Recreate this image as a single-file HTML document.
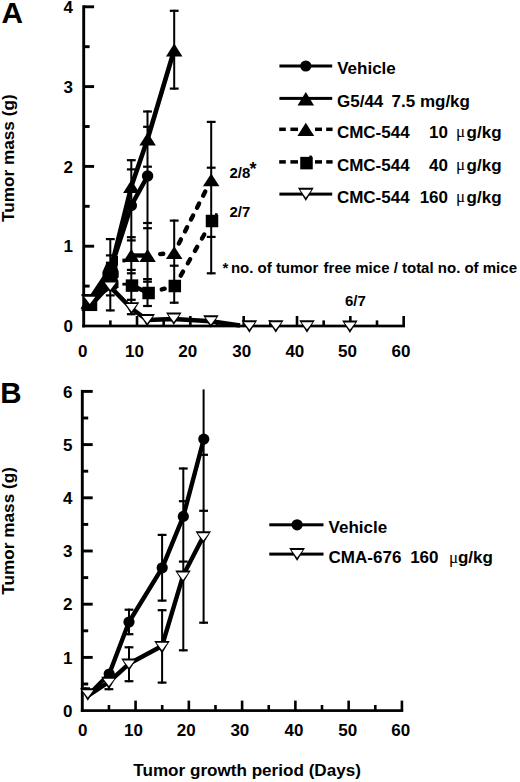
<!DOCTYPE html>
<html><head><meta charset="utf-8"><title>Figure</title>
<style>html,body{margin:0;padding:0;background:#fff;}svg{display:block;}</style>
</head><body>
<svg width="520" height="782" viewBox="0 0 520 782">
<rect x="0" y="0" width="520" height="782" fill="#fff"/>
<rect x="85.50" y="294.10" width="2.00" height="16.70" fill="#000"/>
<rect x="81.50" y="294.00" width="10.00" height="2.20" fill="#000"/>
<rect x="81.50" y="308.70" width="10.00" height="2.20" fill="#000"/>
<rect x="109.30" y="238.10" width="2.00" height="73.30" fill="#000"/>
<rect x="105.90" y="238.00" width="8.80" height="2.20" fill="#000"/>
<rect x="105.90" y="254.30" width="8.80" height="2.20" fill="#000"/>
<rect x="105.90" y="261.60" width="8.80" height="2.20" fill="#000"/>
<rect x="105.90" y="294.30" width="8.80" height="2.20" fill="#000"/>
<rect x="105.90" y="309.30" width="8.80" height="2.20" fill="#000"/>
<rect x="130.30" y="159.20" width="2.00" height="156.00" fill="#000"/>
<rect x="126.90" y="159.10" width="8.80" height="2.20" fill="#000"/>
<rect x="126.90" y="168.30" width="8.80" height="2.20" fill="#000"/>
<rect x="126.90" y="236.10" width="8.80" height="2.20" fill="#000"/>
<rect x="126.90" y="239.30" width="8.80" height="2.20" fill="#000"/>
<rect x="126.90" y="268.80" width="8.80" height="2.20" fill="#000"/>
<rect x="126.90" y="272.20" width="8.80" height="2.20" fill="#000"/>
<rect x="126.90" y="298.70" width="8.80" height="2.20" fill="#000"/>
<rect x="126.90" y="313.10" width="8.80" height="2.20" fill="#000"/>
<rect x="146.50" y="110.50" width="2.00" height="196.50" fill="#000"/>
<rect x="143.10" y="110.40" width="8.80" height="2.20" fill="#000"/>
<rect x="143.10" y="125.70" width="8.80" height="2.20" fill="#000"/>
<rect x="143.10" y="165.60" width="8.80" height="2.20" fill="#000"/>
<rect x="143.10" y="221.90" width="8.80" height="2.20" fill="#000"/>
<rect x="143.10" y="227.10" width="8.80" height="2.20" fill="#000"/>
<rect x="143.10" y="278.00" width="8.80" height="2.20" fill="#000"/>
<rect x="143.10" y="280.60" width="8.80" height="2.20" fill="#000"/>
<rect x="143.10" y="304.90" width="8.80" height="2.20" fill="#000"/>
<rect x="173.20" y="9.80" width="2.00" height="79.80" fill="#000"/>
<rect x="169.80" y="9.70" width="8.80" height="2.20" fill="#000"/>
<rect x="169.80" y="87.50" width="8.80" height="2.20" fill="#000"/>
<rect x="173.20" y="219.60" width="2.00" height="84.10" fill="#000"/>
<rect x="169.80" y="219.50" width="8.80" height="2.20" fill="#000"/>
<rect x="169.80" y="264.60" width="8.80" height="2.20" fill="#000"/>
<rect x="169.80" y="301.60" width="8.80" height="2.20" fill="#000"/>
<rect x="210.20" y="120.90" width="2.00" height="153.40" fill="#000"/>
<rect x="206.80" y="120.80" width="8.80" height="2.20" fill="#000"/>
<rect x="206.80" y="166.60" width="8.80" height="2.20" fill="#000"/>
<rect x="206.80" y="235.80" width="8.80" height="2.20" fill="#000"/>
<rect x="206.80" y="272.20" width="8.80" height="2.20" fill="#000"/>
<polyline points="88.90,304.50 110.30,270.00 131.30,205.50 147.60,176.00" fill="none" stroke="#000" stroke-width="4.6" stroke-linejoin="round" stroke-linecap="butt"/>
<polyline points="88.90,302.00 110.30,271.00 131.30,186.50 147.60,139.00 174.20,50.00" fill="none" stroke="#000" stroke-width="4.6" stroke-linejoin="round" stroke-linecap="butt"/>
<polyline points="89.80,300.40 110.30,286.90 131.50,308.50 147.20,320.00 173.80,319.00 210.90,321.20 240.00,325.60" fill="none" stroke="#000" stroke-width="4.6" stroke-linejoin="round" stroke-linecap="butt"/>
<polyline points="131.30,255.50 147.60,255.50" fill="none" stroke="#000" stroke-width="4.4" stroke-linejoin="round" stroke-linecap="butt"/>
<line x1="160.23" y1="254.12" x2="163.21" y2="253.80" stroke="#000" stroke-width="4.4" stroke-linecap="round"/>
<line x1="178.82" y1="243.51" x2="180.91" y2="239.41" stroke="#000" stroke-width="4.4" stroke-linecap="round"/>
<line x1="184.98" y1="231.38" x2="187.07" y2="227.28" stroke="#000" stroke-width="4.4" stroke-linecap="round"/>
<line x1="191.01" y1="219.53" x2="193.09" y2="215.43" stroke="#000" stroke-width="4.4" stroke-linecap="round"/>
<line x1="197.04" y1="207.67" x2="199.12" y2="203.57" stroke="#000" stroke-width="4.4" stroke-linecap="round"/>
<line x1="203.15" y1="195.64" x2="205.24" y2="191.53" stroke="#000" stroke-width="4.4" stroke-linecap="round"/>
<polyline points="132.00,285.60 148.60,293.00" fill="none" stroke="#000" stroke-width="4.4" stroke-linejoin="round" stroke-linecap="butt"/>
<line x1="161.74" y1="289.49" x2="164.64" y2="288.72" stroke="#000" stroke-width="4.4" stroke-linecap="round"/>
<line x1="180.71" y1="275.67" x2="183.00" y2="271.68" stroke="#000" stroke-width="4.4" stroke-linecap="round"/>
<line x1="187.81" y1="263.26" x2="190.10" y2="259.27" stroke="#000" stroke-width="4.4" stroke-linecap="round"/>
<line x1="194.92" y1="250.85" x2="197.20" y2="246.86" stroke="#000" stroke-width="4.4" stroke-linecap="round"/>
<line x1="201.97" y1="238.53" x2="204.26" y2="234.53" stroke="#000" stroke-width="4.4" stroke-linecap="round"/>
<polyline points="89.00,302.00 110.30,271.00" fill="none" stroke="#000" stroke-width="5.0" stroke-linejoin="round" stroke-linecap="butt"/>
<polyline points="91.00,304.80 111.00,283.00" fill="none" stroke="#000" stroke-width="5.0" stroke-linejoin="round" stroke-linecap="butt"/>
<polygon points="89.50,296.00 102.40,276.50 104.00,281.00 106.50,289.00 105.00,292.30 97.40,297.80 92.00,301.00" fill="#000"/>
<polygon points="106.40,262.40 109.50,262.40 112.00,256.00 118.00,256.00 118.00,264.50 117.30,267.50 118.70,271.50 118.70,277.00 116.60,279.50 118.50,281.50 118.50,288.00 110.00,288.00 102.40,281.00 102.40,272.10 105.50,265.00" fill="#000"/>
<rect x="82.25" y="5.30" width="2.90" height="322.05" fill="#000"/>
<rect x="82.25" y="324.65" width="322.73" height="2.70" fill="#000"/>
<rect x="83.70" y="284.65" width="5.90" height="2.90" fill="#000"/>
<rect x="83.70" y="244.75" width="10.40" height="2.90" fill="#000"/>
<rect x="83.70" y="204.85" width="5.90" height="2.90" fill="#000"/>
<rect x="83.70" y="164.95" width="10.40" height="2.90" fill="#000"/>
<rect x="83.70" y="125.05" width="5.90" height="2.90" fill="#000"/>
<rect x="83.70" y="85.15" width="10.40" height="2.90" fill="#000"/>
<rect x="83.70" y="45.25" width="5.90" height="2.90" fill="#000"/>
<rect x="83.70" y="5.35" width="10.40" height="2.90" fill="#000"/>
<rect x="109.07" y="320.40" width="2.60" height="5.60" fill="#000"/>
<rect x="135.73" y="316.00" width="2.60" height="10.00" fill="#000"/>
<rect x="162.39" y="320.40" width="2.60" height="5.60" fill="#000"/>
<rect x="189.06" y="316.00" width="2.60" height="10.00" fill="#000"/>
<rect x="215.73" y="320.40" width="2.60" height="5.60" fill="#000"/>
<rect x="242.39" y="316.00" width="2.60" height="10.00" fill="#000"/>
<rect x="269.06" y="320.40" width="2.60" height="5.60" fill="#000"/>
<rect x="295.72" y="316.00" width="2.60" height="10.00" fill="#000"/>
<rect x="322.38" y="320.40" width="2.60" height="5.60" fill="#000"/>
<rect x="349.05" y="316.00" width="2.60" height="10.00" fill="#000"/>
<rect x="375.71" y="320.40" width="2.60" height="5.60" fill="#000"/>
<rect x="402.38" y="316.00" width="2.60" height="10.00" fill="#000"/>
<circle cx="88.90" cy="304.50" r="5.75" fill="#000"/>
<circle cx="110.30" cy="270.00" r="5.75" fill="#000"/>
<circle cx="131.30" cy="205.50" r="5.75" fill="#000"/>
<circle cx="147.60" cy="176.00" r="5.75" fill="#000"/>
<polygon points="80.65,308.40 97.15,308.40 88.90,295.60" fill="#000"/>
<polygon points="102.05,277.40 118.55,277.40 110.30,264.60" fill="#000"/>
<polygon points="123.05,192.90 139.55,192.90 131.30,180.10" fill="#000"/>
<polygon points="139.35,145.40 155.85,145.40 147.60,132.60" fill="#000"/>
<polygon points="165.95,56.40 182.45,56.40 174.20,43.60" fill="#000"/>
<polygon points="80.65,308.40 97.15,308.40 88.90,295.60" fill="#000"/>
<polygon points="102.05,280.90 118.55,280.90 110.30,268.10" fill="#000"/>
<polygon points="123.05,261.90 139.55,261.90 131.30,249.10" fill="#000"/>
<polygon points="139.35,261.90 155.85,261.90 147.60,249.10" fill="#000"/>
<polygon points="165.95,259.00 182.45,259.00 174.20,246.20" fill="#000"/>
<polygon points="202.95,186.20 219.45,186.20 211.20,173.40" fill="#000"/>
<rect x="84.75" y="298.55" width="12.50" height="12.50" fill="#000"/>
<rect x="104.75" y="276.75" width="12.50" height="12.50" fill="#000"/>
<rect x="125.75" y="279.35" width="12.50" height="12.50" fill="#000"/>
<rect x="142.35" y="286.75" width="12.50" height="12.50" fill="#000"/>
<rect x="168.55" y="279.75" width="12.50" height="12.50" fill="#000"/>
<rect x="205.75" y="214.75" width="12.50" height="12.50" fill="#000"/>
<rect x="122.40" y="282.80" width="4.00" height="2.80" fill="#000"/>
<rect x="122.40" y="258.60" width="3.00" height="3.80" fill="#000"/>
<rect x="215.00" y="213.20" width="2.60" height="2.00" fill="#000"/>
<polygon points="82.05,294.80 97.55,294.80 89.80,307.30" fill="#000"/>
<polygon points="84.25,296.70 95.35,296.70 89.80,304.10" fill="#fff"/>
<polygon points="102.55,280.60 118.05,280.60 110.30,293.10" fill="#000"/>
<polygon points="104.75,282.50 115.85,282.50 110.30,289.90" fill="#fff"/>
<polygon points="123.75,302.20 139.25,302.20 131.50,314.70" fill="#000"/>
<polygon points="125.95,304.10 137.05,304.10 131.50,311.50" fill="#fff"/>
<polygon points="139.45,314.00 154.95,314.00 147.20,326.50" fill="#000"/>
<polygon points="141.65,315.90 152.75,315.90 147.20,323.30" fill="#fff"/>
<polygon points="166.05,312.60 181.55,312.60 173.80,325.10" fill="#000"/>
<polygon points="168.25,314.50 179.35,314.50 173.80,321.90" fill="#fff"/>
<polygon points="203.15,315.30 218.65,315.30 210.90,327.80" fill="#000"/>
<polygon points="205.35,317.20 216.45,317.20 210.90,324.60" fill="#fff"/>
<polygon points="241.65,320.30 257.15,320.30 249.40,332.80" fill="#000"/>
<polygon points="243.85,322.20 254.95,322.20 249.40,329.60" fill="#fff"/>
<polygon points="268.05,320.30 283.55,320.30 275.80,332.80" fill="#000"/>
<polygon points="270.25,322.20 281.35,322.20 275.80,329.60" fill="#fff"/>
<polygon points="299.25,320.30 314.75,320.30 307.00,332.80" fill="#000"/>
<polygon points="301.45,322.20 312.55,322.20 307.00,329.60" fill="#fff"/>
<polygon points="342.15,320.50 357.65,320.50 349.90,333.00" fill="#000"/>
<polygon points="344.35,322.40 355.45,322.40 349.90,329.80" fill="#fff"/>
<text x="72.90" y="332.20" font-size="17" font-weight="bold" text-anchor="end" font-family='"Liberation Sans", sans-serif' >0</text>
<text x="72.90" y="252.40" font-size="17" font-weight="bold" text-anchor="end" font-family='"Liberation Sans", sans-serif' >1</text>
<text x="72.90" y="172.60" font-size="17" font-weight="bold" text-anchor="end" font-family='"Liberation Sans", sans-serif' >2</text>
<text x="72.90" y="92.80" font-size="17" font-weight="bold" text-anchor="end" font-family='"Liberation Sans", sans-serif' >3</text>
<text x="72.90" y="13.00" font-size="17" font-weight="bold" text-anchor="end" font-family='"Liberation Sans", sans-serif' >4</text>
<text x="82.70" y="357.30" font-size="17" font-weight="bold" text-anchor="middle" font-family='"Liberation Sans", sans-serif' >0</text>
<text x="134.50" y="357.30" font-size="17" font-weight="bold" text-anchor="middle" font-family='"Liberation Sans", sans-serif' >10</text>
<text x="187.65" y="357.30" font-size="17" font-weight="bold" text-anchor="middle" font-family='"Liberation Sans", sans-serif' >20</text>
<text x="241.65" y="357.30" font-size="17" font-weight="bold" text-anchor="middle" font-family='"Liberation Sans", sans-serif' >30</text>
<text x="294.85" y="357.30" font-size="17" font-weight="bold" text-anchor="middle" font-family='"Liberation Sans", sans-serif' >40</text>
<text x="347.50" y="357.30" font-size="17" font-weight="bold" text-anchor="middle" font-family='"Liberation Sans", sans-serif' >50</text>
<text x="400.95" y="357.30" font-size="17" font-weight="bold" text-anchor="middle" font-family='"Liberation Sans", sans-serif' >60</text>
<text transform="translate(13.9,158.2) rotate(-90)" font-size="17.2" font-weight="bold" text-anchor="middle" font-family='"Liberation Sans", sans-serif'>Tumor mass (g)</text>
<text x="1.60" y="22.60" font-size="29.8" font-weight="bold" text-anchor="start" font-family='"Liberation Sans", sans-serif' >A</text>
<text x="229.50" y="178.00" font-size="15" font-weight="bold" text-anchor="start" font-family='"Liberation Sans", sans-serif' >2/8</text>
<text x="249.60" y="174.60" font-size="18" font-weight="bold" text-anchor="start" font-family='"Liberation Sans", sans-serif' >*</text>
<text x="229.50" y="217.00" font-size="15" font-weight="bold" text-anchor="start" font-family='"Liberation Sans", sans-serif' >2/7</text>
<text x="222.50" y="273.00" font-size="15" font-weight="bold" text-anchor="start" font-family='"Liberation Sans", sans-serif' >*</text>
<text x="230.90" y="273.00" font-size="15" font-weight="bold" text-anchor="start" font-family='"Liberation Sans", sans-serif' >no. of tumor</text>
<text x="323.60" y="273.00" font-size="15" font-weight="bold" text-anchor="start" font-family='"Liberation Sans", sans-serif' >free mice / total no. of mice</text>
<text x="345.00" y="306.00" font-size="15" font-weight="bold" text-anchor="start" font-family='"Liberation Sans", sans-serif' >6/7</text>
<rect x="279.40" y="64.50" width="52.80" height="3.00" fill="#000"/>
<circle cx="305.80" cy="66.00" r="5.6" fill="#000"/>
<text x="337.20" y="74.10" font-size="17" font-weight="bold" text-anchor="start" font-family='"Liberation Sans", sans-serif' >Vehicle</text>
<rect x="279.40" y="96.90" width="52.80" height="3.00" fill="#000"/>
<polygon points="297.55,105.60 314.05,105.60 305.80,91.90" fill="#000"/>
<text x="337.00" y="106.50" font-size="17" font-weight="bold" text-anchor="start" font-family='"Liberation Sans", sans-serif' >G5/44</text>
<text x="391.50" y="106.50" font-size="17" font-weight="bold" text-anchor="start" font-family='"Liberation Sans", sans-serif' >7.5</text>
<text x="419.90" y="106.50" font-size="17" font-weight="bold" text-anchor="start" font-family='"Liberation Sans", sans-serif' >mg/kg</text>
<rect x="279.20" y="127.55" width="6.60" height="3.50" fill="#000"/>
<rect x="290.40" y="127.55" width="7.60" height="3.50" fill="#000"/>
<rect x="315.00" y="127.55" width="7.00" height="3.50" fill="#000"/>
<rect x="326.20" y="127.55" width="6.40" height="3.50" fill="#000"/>
<polygon points="297.40,136.05 314.20,136.05 305.80,122.75" fill="#000"/>
<rect x="279.20" y="160.15" width="6.60" height="3.50" fill="#000"/>
<rect x="290.40" y="160.15" width="7.60" height="3.50" fill="#000"/>
<rect x="315.00" y="160.15" width="7.00" height="3.50" fill="#000"/>
<rect x="326.20" y="160.15" width="6.40" height="3.50" fill="#000"/>
<rect x="300.25" y="156.85" width="12.50" height="12.50" fill="#000"/>
<rect x="309.30" y="155.60" width="2.60" height="2.00" fill="#000"/>
<rect x="279.40" y="192.60" width="52.80" height="3.00" fill="#000"/>
<polygon points="297.93,187.75 313.68,187.75 305.80,201.00" fill="#000"/>
<polygon points="300.12,189.65 311.48,189.65 305.80,197.80" fill="#fff"/>
<text x="336.90" y="137.50" font-size="17" font-weight="bold" text-anchor="start" font-family='"Liberation Sans", sans-serif' >CMC-544</text>
<text x="448.00" y="137.50" font-size="17" font-weight="bold" text-anchor="end" font-family='"Liberation Sans", sans-serif' >10</text>
<text x="456.10" y="136.90" font-size="17" font-weight="normal" text-anchor="start" font-family='"Liberation Serif", serif' >&#956;</text>
<text x="466.60" y="137.50" font-size="17" font-weight="bold" text-anchor="start" font-family='"Liberation Sans", sans-serif' >g/kg</text>
<text x="336.90" y="170.50" font-size="17" font-weight="bold" text-anchor="start" font-family='"Liberation Sans", sans-serif' >CMC-544</text>
<text x="448.00" y="170.50" font-size="17" font-weight="bold" text-anchor="end" font-family='"Liberation Sans", sans-serif' >40</text>
<text x="456.10" y="169.90" font-size="17" font-weight="normal" text-anchor="start" font-family='"Liberation Serif", serif' >&#956;</text>
<text x="466.60" y="170.50" font-size="17" font-weight="bold" text-anchor="start" font-family='"Liberation Sans", sans-serif' >g/kg</text>
<text x="336.90" y="202.50" font-size="17" font-weight="bold" text-anchor="start" font-family='"Liberation Sans", sans-serif' >CMC-544</text>
<text x="448.00" y="202.50" font-size="17" font-weight="bold" text-anchor="end" font-family='"Liberation Sans", sans-serif' >160</text>
<text x="456.10" y="201.90" font-size="17" font-weight="normal" text-anchor="start" font-family='"Liberation Serif", serif' >&#956;</text>
<text x="466.60" y="202.50" font-size="17" font-weight="bold" text-anchor="start" font-family='"Liberation Sans", sans-serif' >g/kg</text>
<rect x="84.50" y="687.40" width="2.00" height="5.60" fill="#000"/>
<rect x="81.00" y="687.30" width="9.00" height="2.20" fill="#000"/>
<rect x="107.90" y="682.00" width="2.00" height="8.20" fill="#000"/>
<rect x="104.50" y="688.10" width="8.80" height="2.20" fill="#000"/>
<rect x="128.00" y="608.70" width="2.00" height="26.50" fill="#000"/>
<rect x="124.60" y="608.60" width="8.80" height="2.20" fill="#000"/>
<rect x="124.60" y="633.10" width="8.80" height="2.20" fill="#000"/>
<rect x="128.00" y="646.30" width="2.00" height="35.90" fill="#000"/>
<rect x="124.60" y="646.20" width="8.80" height="2.20" fill="#000"/>
<rect x="124.60" y="680.10" width="8.80" height="2.20" fill="#000"/>
<rect x="161.10" y="533.90" width="2.00" height="67.70" fill="#000"/>
<rect x="157.70" y="533.80" width="8.80" height="2.20" fill="#000"/>
<rect x="157.70" y="599.50" width="8.80" height="2.20" fill="#000"/>
<rect x="161.10" y="609.20" width="2.00" height="74.40" fill="#000"/>
<rect x="157.70" y="609.10" width="8.80" height="2.20" fill="#000"/>
<rect x="157.70" y="681.50" width="8.80" height="2.20" fill="#000"/>
<rect x="182.30" y="467.50" width="2.00" height="183.80" fill="#000"/>
<rect x="178.90" y="467.40" width="8.80" height="2.20" fill="#000"/>
<rect x="178.90" y="500.10" width="8.80" height="2.20" fill="#000"/>
<rect x="178.90" y="560.50" width="8.80" height="2.20" fill="#000"/>
<rect x="178.90" y="649.20" width="8.80" height="2.20" fill="#000"/>
<rect x="202.60" y="389.40" width="2.00" height="234.30" fill="#000"/>
<rect x="199.20" y="453.70" width="8.80" height="2.20" fill="#000"/>
<rect x="199.20" y="509.70" width="8.80" height="2.20" fill="#000"/>
<rect x="199.20" y="621.60" width="8.80" height="2.20" fill="#000"/>
<polyline points="88.00,695.50 109.20,674.00 129.00,622.00 162.20,567.80 183.30,516.40 203.80,439.10" fill="none" stroke="#000" stroke-width="4.4" stroke-linejoin="round" stroke-linecap="butt"/>
<polyline points="87.80,696.00 108.90,682.00 129.00,663.80 162.00,646.00 183.00,575.80 203.30,536.50" fill="none" stroke="#000" stroke-width="4.4" stroke-linejoin="round" stroke-linecap="butt"/>
<rect x="80.85" y="389.90" width="2.90" height="322.05" fill="#000"/>
<rect x="80.85" y="709.25" width="322.37" height="2.70" fill="#000"/>
<rect x="82.30" y="682.55" width="5.90" height="2.90" fill="#000"/>
<rect x="82.30" y="655.95" width="10.40" height="2.90" fill="#000"/>
<rect x="82.30" y="629.35" width="5.90" height="2.90" fill="#000"/>
<rect x="82.30" y="602.75" width="10.40" height="2.90" fill="#000"/>
<rect x="82.30" y="576.15" width="5.90" height="2.90" fill="#000"/>
<rect x="82.30" y="549.55" width="10.40" height="2.90" fill="#000"/>
<rect x="82.30" y="522.95" width="5.90" height="2.90" fill="#000"/>
<rect x="82.30" y="496.35" width="10.40" height="2.90" fill="#000"/>
<rect x="82.30" y="469.75" width="5.90" height="2.90" fill="#000"/>
<rect x="82.30" y="443.15" width="10.40" height="2.90" fill="#000"/>
<rect x="82.30" y="416.55" width="5.90" height="2.90" fill="#000"/>
<rect x="82.30" y="389.95" width="10.40" height="2.90" fill="#000"/>
<rect x="107.64" y="705.00" width="2.60" height="5.60" fill="#000"/>
<rect x="134.27" y="700.60" width="2.60" height="10.00" fill="#000"/>
<rect x="160.90" y="705.00" width="2.60" height="5.60" fill="#000"/>
<rect x="187.54" y="700.60" width="2.60" height="10.00" fill="#000"/>
<rect x="214.18" y="705.00" width="2.60" height="5.60" fill="#000"/>
<rect x="240.81" y="700.60" width="2.60" height="10.00" fill="#000"/>
<rect x="267.44" y="705.00" width="2.60" height="5.60" fill="#000"/>
<rect x="294.08" y="700.60" width="2.60" height="10.00" fill="#000"/>
<rect x="320.71" y="705.00" width="2.60" height="5.60" fill="#000"/>
<rect x="347.35" y="700.60" width="2.60" height="10.00" fill="#000"/>
<rect x="373.99" y="705.00" width="2.60" height="5.60" fill="#000"/>
<rect x="400.62" y="700.60" width="2.60" height="10.00" fill="#000"/>
<circle cx="109.20" cy="674.00" r="5.6" fill="#000"/>
<circle cx="129.00" cy="622.00" r="5.6" fill="#000"/>
<circle cx="162.20" cy="567.80" r="5.6" fill="#000"/>
<circle cx="183.30" cy="516.40" r="5.6" fill="#000"/>
<circle cx="203.80" cy="439.10" r="5.6" fill="#000"/>
<polygon points="80.05,688.30 95.55,688.30 87.80,700.80" fill="#000"/>
<polygon points="82.25,690.20 93.35,690.20 87.80,697.60" fill="#fff"/>
<polygon points="101.15,676.80 116.65,676.80 108.90,689.30" fill="#000"/>
<polygon points="103.35,678.70 114.45,678.70 108.90,686.10" fill="#fff"/>
<polygon points="121.25,658.50 136.75,658.50 129.00,671.00" fill="#000"/>
<polygon points="123.45,660.40 134.55,660.40 129.00,667.80" fill="#fff"/>
<polygon points="154.25,640.90 169.75,640.90 162.00,653.40" fill="#000"/>
<polygon points="156.45,642.80 167.55,642.80 162.00,650.20" fill="#fff"/>
<polygon points="175.25,570.60 190.75,570.60 183.00,583.10" fill="#000"/>
<polygon points="177.45,572.50 188.55,572.50 183.00,579.90" fill="#fff"/>
<polygon points="195.55,531.30 211.05,531.30 203.30,543.80" fill="#000"/>
<polygon points="197.75,533.20 208.85,533.20 203.30,540.60" fill="#fff"/>
<text x="72.40" y="716.80" font-size="17" font-weight="bold" text-anchor="end" font-family='"Liberation Sans", sans-serif' >0</text>
<text x="72.40" y="663.60" font-size="17" font-weight="bold" text-anchor="end" font-family='"Liberation Sans", sans-serif' >1</text>
<text x="72.40" y="610.40" font-size="17" font-weight="bold" text-anchor="end" font-family='"Liberation Sans", sans-serif' >2</text>
<text x="72.40" y="557.20" font-size="17" font-weight="bold" text-anchor="end" font-family='"Liberation Sans", sans-serif' >3</text>
<text x="72.40" y="504.00" font-size="17" font-weight="bold" text-anchor="end" font-family='"Liberation Sans", sans-serif' >4</text>
<text x="72.40" y="450.80" font-size="17" font-weight="bold" text-anchor="end" font-family='"Liberation Sans", sans-serif' >5</text>
<text x="72.40" y="397.60" font-size="17" font-weight="bold" text-anchor="end" font-family='"Liberation Sans", sans-serif' >6</text>
<text x="82.85" y="736.30" font-size="17" font-weight="bold" text-anchor="middle" font-family='"Liberation Sans", sans-serif' >0</text>
<text x="133.40" y="736.30" font-size="17" font-weight="bold" text-anchor="middle" font-family='"Liberation Sans", sans-serif' >10</text>
<text x="186.30" y="736.30" font-size="17" font-weight="bold" text-anchor="middle" font-family='"Liberation Sans", sans-serif' >20</text>
<text x="239.85" y="736.30" font-size="17" font-weight="bold" text-anchor="middle" font-family='"Liberation Sans", sans-serif' >30</text>
<text x="294.00" y="736.30" font-size="17" font-weight="bold" text-anchor="middle" font-family='"Liberation Sans", sans-serif' >40</text>
<text x="347.70" y="736.30" font-size="17" font-weight="bold" text-anchor="middle" font-family='"Liberation Sans", sans-serif' >50</text>
<text x="400.80" y="736.30" font-size="17" font-weight="bold" text-anchor="middle" font-family='"Liberation Sans", sans-serif' >60</text>
<text transform="translate(13.6,530.9) rotate(-90)" font-size="17.2" font-weight="bold" text-anchor="middle" font-family='"Liberation Sans", sans-serif'>Tumor mass (g)</text>
<text x="0.30" y="402.60" font-size="29.5" font-weight="bold" text-anchor="start" font-family='"Liberation Sans", sans-serif' >B</text>
<text x="133.30" y="775.80" font-size="17.1" font-weight="bold" text-anchor="start" font-family='"Liberation Sans", sans-serif' >Tumor growth period (Days)</text>
<rect x="269.30" y="523.30" width="54.20" height="3.00" fill="#000"/>
<circle cx="297.10" cy="524.80" r="5.6" fill="#000"/>
<text x="328.60" y="532.80" font-size="17" font-weight="bold" text-anchor="start" font-family='"Liberation Sans", sans-serif' >Vehicle</text>
<rect x="269.30" y="552.60" width="54.20" height="3.00" fill="#000"/>
<polygon points="289.23,548.00 304.98,548.00 297.10,561.00" fill="#000"/>
<polygon points="291.43,549.90 302.78,549.90 297.10,557.80" fill="#fff"/>
<text x="328.60" y="563.30" font-size="17" font-weight="bold" text-anchor="start" font-family='"Liberation Sans", sans-serif' >CMA-676</text>
<text x="438.50" y="563.30" font-size="17" font-weight="bold" text-anchor="end" font-family='"Liberation Sans", sans-serif' >160</text>
<text x="448.90" y="562.70" font-size="17" font-weight="normal" text-anchor="start" font-family='"Liberation Serif", serif' >&#956;</text>
<text x="457.90" y="563.30" font-size="17" font-weight="bold" text-anchor="start" font-family='"Liberation Sans", sans-serif' >g/kg</text>
</svg>
</body></html>
